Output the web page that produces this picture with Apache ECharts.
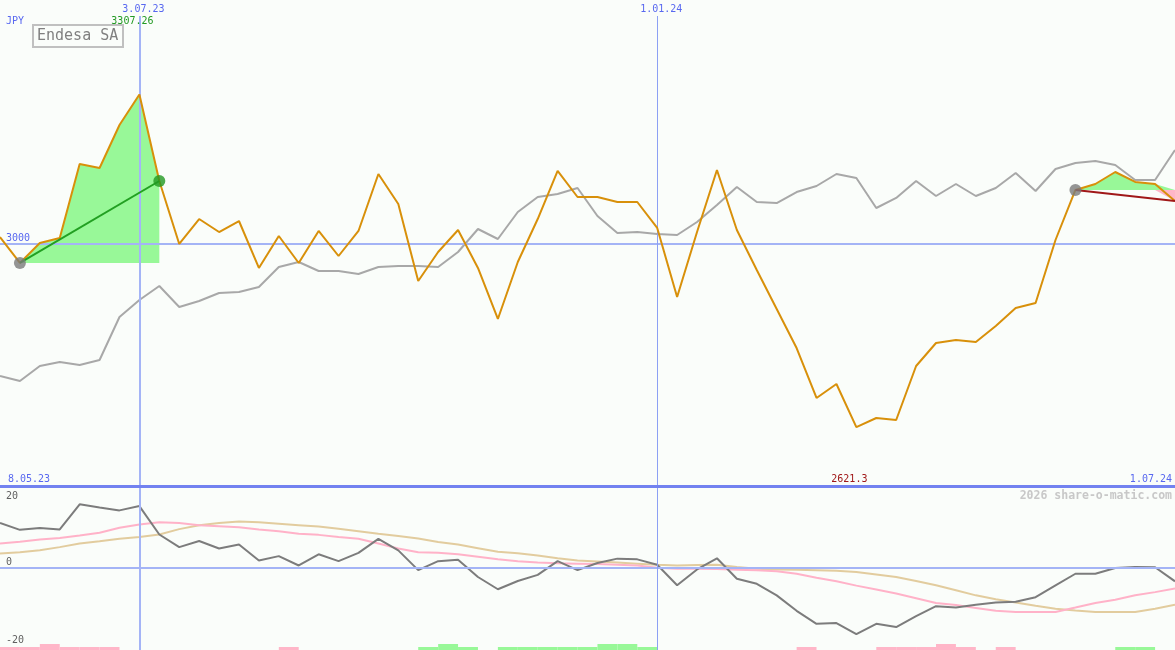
<!DOCTYPE html>
<html><head><meta charset="utf-8">
<script src="https://cdn.jsdelivr.net/npm/echarts@6/dist/echarts.min.js"></script>
<style>html,body{margin:0;padding:0;background:#fafdfa;}#c{width:1175px;height:650px;}</style>
</head><body><div id="c"></div>
<script>
// ---------- data ----------
const dates = ['2023-05-15','2023-05-22','2023-05-29','2023-06-05','2023-06-12','2023-06-19','2023-06-26','2023-07-03',
'2023-07-10','2023-07-17','2023-07-24','2023-07-31','2023-08-07','2023-08-14','2023-08-21','2023-08-28',
'2023-09-04','2023-09-11','2023-09-18','2023-09-25','2023-10-02','2023-10-09','2023-10-16','2023-10-23',
'2023-10-30','2023-11-06','2023-11-13','2023-11-20','2023-11-27','2023-12-04','2023-12-11','2023-12-18',
'2023-12-25','2024-01-01','2024-01-08','2024-01-15','2024-01-22','2024-01-29','2024-02-05','2024-02-12',
'2024-02-19','2024-02-26','2024-03-04','2024-03-11','2024-03-18','2024-03-25','2024-04-01','2024-04-08',
'2024-04-15','2024-04-22','2024-04-29','2024-05-06','2024-05-13','2024-05-20','2024-05-27','2024-06-03',
'2024-06-10','2024-06-17','2024-06-24','2024-07-01'];
const price = [3013.4,2959.8,3001.0,3011.3,3164.0,3155.8,3244.5,3307.26,
3128.9,2999.0,3050.5,3023.7,3046.4,2949.5,3015.5,2959.8,
3025.8,2974.2,3025.8,3143.4,3081.5,2922.6,2982.5,3027.9,
2949.5,2844.3,2961.8,3050.5,3149.6,3095.9,3095.9,3085.6,
3085.6,3032.0,2889.6,3023.7,3151.6,3027.9,2945.4,2864.9,
2784.4,2681.3,2710.2,2621.3,2640.0,2635.9,2747.3,2794.7,
2800.9,2796.8,2829.8,2866.9,2877.3,3007.2,3110.4,3122.7,
3147.5,3126.9,3122.7,3087.7];
const compare = [2726.7,2716.3,2747.3,2755.5,2749.3,2759.7,2848.4,2883.4,
2912.3,2869.0,2881.4,2897.9,2899.9,2910.3,2951.5,2961.8,
2943.3,2943.3,2937.1,2951.5,2953.6,2953.6,2951.5,2982.5,
3029.9,3009.3,3065.0,3095.9,3102.1,3114.5,3056.7,3021.7,
3023.7,3019.6,3017.5,3044.4,3079.4,3116.6,3085.6,3083.5,
3106.2,3118.6,3143.4,3135.1,3073.2,3093.9,3128.9,3098.0,
3122.7,3098.0,3114.5,3145.4,3108.3,3153.7,3166.1,3170.2,
3161.9,3131.0,3131.0,3192.9];
const momentum = [12.5,10.6,11.1,10.7,17.7,16.8,16.0,17.2,
9.3,5.8,7.5,5.4,6.5,2.1,3.3,0.7,
3.8,1.9,4.2,8.1,4.9,-0.6,1.9,2.3,
-2.5,-5.9,-3.6,-1.9,1.9,-0.6,1.4,2.6,
2.4,0.9,-4.8,-0.4,2.7,-3.0,-4.4,-7.6,
-11.9,-15.5,-15.3,-18.4,-15.5,-16.4,-13.4,-10.6,
-11.0,-10.2,-9.6,-9.4,-8.1,-4.8,-1.6,-1.6,
0.0,0.3,0.2,-3.7];
const avgFast = [6.8,7.3,7.9,8.3,9.0,9.8,11.2,12.1,
12.7,12.5,11.9,11.6,11.3,10.7,10.2,9.5,
9.2,8.6,8.1,6.8,5.4,4.4,4.2,3.8,
3.1,2.4,1.9,1.5,1.3,1.2,1.1,0.9,
0.7,0.1,-0.2,-0.2,-0.3,-0.5,-0.6,-0.9,
-1.6,-2.7,-3.7,-4.9,-6.0,-7.1,-8.4,-9.7,
-10.3,-11.1,-11.9,-12.2,-12.2,-12.2,-11.0,-9.7,
-8.8,-7.6,-6.7,-5.7];
const avgSlow = [4.0,4.4,4.9,5.8,6.8,7.4,8.1,8.6,
9.3,10.8,11.9,12.5,12.9,12.7,12.3,11.9,
11.5,10.9,10.2,9.5,8.9,8.2,7.2,6.5,
5.5,4.5,4.1,3.5,2.7,2.1,1.8,1.5,
1.2,0.9,0.7,0.8,0.9,0.3,-0.2,-0.4,
-0.5,-0.6,-0.8,-1.1,-1.8,-2.5,-3.6,-4.8,
-6.2,-7.6,-8.7,-9.6,-10.5,-11.3,-11.8,-12.2,
-12.2,-12.2,-11.3,-10.2];
const signals = [-1,-1,-2,-1,-1,-1,0,0,
0,0,0,0,0,0,-1,0,
0,0,0,0,0,1,2,1,
0,1,1,1,1,1,2,2,
1,0,0,0,0,0,0,0,
-1,0,0,0,-1,-1,-1,-2,
-1,0,-1,0,0,0,0,0,
1,1,0];
const markDates = ['2023-07-03','2024-01-01'];
const periods = [[1,8],[54,59]];
const refPrice = 3000;
const oscTicks = [20,0,-20];
const currency = 'JPY';
const seriesName = 'Endesa SA';
const rangeLabels = ['8.05.23','1.07.24'];
const watermark = '2026 share-o-matic.com';

// ---------- styles ----------
const FONT = '"DejaVu Sans Mono", monospace';
const BLUE_TXT = '#5868f0';
const REF = '#a4b4f6';
const REF_THIN = '#8ca0f4';
const fmtDate = d => { const [y,m,dd] = d.split('-'); return (+dd) + '.' + m + '.' + y.slice(2); };

const series = [];
// reference lines (top)
series.push({type:'line', xAxisIndex:0, yAxisIndex:0, data:price, showSymbol:false, silent:true, z:1,
  lineStyle:{opacity:0},
  markLine:{silent:true, symbol:['none','none'], label:{show:false}, animation:false,
    data:[{yAxis:refPrice, lineStyle:{color:REF,width:2,type:'solid'}},
          {xAxis:markDates[0], lineStyle:{color:REF,width:2,type:'solid'}},
          {xAxis:markDates[1], lineStyle:{color:REF_THIN,width:1,type:'solid'}}]}});
// comparison line
series.push({type:'line', xAxisIndex:0, yAxisIndex:0, data:compare, showSymbol:false, z:2,
  lineStyle:{color:'#a8a8a8', width:2}});
// period fills
periods.forEach(([a,b],k) => {
  const base = price[a];
  const inR = i => i>=a && i<=b;
  const baseArr = price.map((v,i)=> inR(i) ? base : '-');
  const up = price.map((v,i)=> inR(i) ? Math.max(v-base,0) : '-');
  const dn = price.map((v,i)=> inR(i) ? Math.min(v-base,0) : '-');
  const common = {type:'line', xAxisIndex:0, yAxisIndex:0, showSymbol:false, silent:true, stackStrategy:'all', lineStyle:{opacity:0}, z:3};
  series.push(Object.assign({}, common, {stack:'u'+k, data:baseArr}));
  series.push(Object.assign({}, common, {stack:'u'+k, data:up, areaStyle:{color:'#98f898', opacity:1}}));
  series.push(Object.assign({}, common, {stack:'d'+k, data:baseArr}));
  series.push(Object.assign({}, common, {stack:'d'+k, data:dn, areaStyle:{color:'#ffb6c8', opacity:1}}));
});
// price line
series.push({type:'line', name:seriesName, xAxisIndex:0, yAxisIndex:0, data:price, showSymbol:false, z:5,
  lineStyle:{color:'#d8900a', width:2}});
// trend lines and dots
periods.forEach(([a,b]) => {
  const gain = price[b] >= price[a];
  const col = gain ? '#22a022' : '#a01818';
  series.push({type:'line', xAxisIndex:0, yAxisIndex:0, connectNulls:true, showSymbol:false, silent:true, z:6,
    data: price.map((v,i)=> (i===a||i===b) ? v : '-'), lineStyle:{color:col, width:2}});
  series.push({type:'scatter', xAxisIndex:0, yAxisIndex:0, silent:true, z:7, symbolSize:12,
    data:[[a, price[a]]], itemStyle:{color:'#7a7a7a'}});
  if (b < price.length-1) {
    series.push({type:'scatter', xAxisIndex:0, yAxisIndex:0, silent:true, z:7, symbolSize:12,
      data:[[b, price[b]]], itemStyle:{color:'#229922'}});
  }
});
// bottom reference lines
series.push({type:'line', xAxisIndex:1, yAxisIndex:1, data:momentum, showSymbol:false, silent:true, z:1,
  lineStyle:{opacity:0},
  markLine:{silent:true, symbol:['none','none'], label:{show:false}, animation:false,
    data:[{yAxis:0, lineStyle:{color:REF,width:2,type:'solid'}},
          {xAxis:markDates[0], lineStyle:{color:REF,width:2,type:'solid'}},
          {xAxis:markDates[1], lineStyle:{color:REF_THIN,width:1,type:'solid'}}]}});
series.push({type:'line', xAxisIndex:1, yAxisIndex:1, data:avgSlow, showSymbol:false, z:2, lineStyle:{color:'#e2cc9e', width:2}});
series.push({type:'line', xAxisIndex:1, yAxisIndex:1, data:avgFast, showSymbol:false, z:3, lineStyle:{color:'#ffb2c8', width:2}});
series.push({type:'line', xAxisIndex:1, yAxisIndex:1, data:momentum, showSymbol:false, z:4, lineStyle:{color:'#7c7c7c', width:2}});
// signal bars
const sig = signals.slice(0, dates.length-1);
series.push({type:'bar', xAxisIndex:2, yAxisIndex:2, data:sig.map(s=> s>0 ? s : '-'), barWidth:'100%', barGap:'-100%', silent:true, z:2, itemStyle:{color:'#98f898'}});
series.push({type:'bar', xAxisIndex:2, yAxisIndex:2, data:sig.map(s=> s<0 ? -s : '-'), barWidth:'100%', barGap:'-100%', silent:true, z:2, itemStyle:{color:'#ffb6c8'}});

const hid = {axisLine:{show:false}, axisTick:{show:false}, axisLabel:{show:false}, splitLine:{show:false}};
const option = {
  animation:false,
  backgroundColor:'#fafdfa',
  grid:[{left:0,right:0,top:16,height:469},{left:0,right:0,top:488,height:162},{left:0,right:0,top:488,height:162}],
  xAxis:[
    Object.assign({type:'category', gridIndex:0, data:dates, boundaryGap:false}, hid),
    Object.assign({type:'category', gridIndex:1, data:dates, boundaryGap:false}, hid),
    Object.assign({type:'category', gridIndex:2, data:dates.slice(0,dates.length-1), boundaryGap:true}, hid)
  ],
  yAxis:[
    Object.assign({type:'value', gridIndex:0, min:2501.8, max:3469.3}, hid),
    Object.assign({type:'value', gridIndex:1, min:-22.78, max:22.22}, hid),
    Object.assign({type:'value', gridIndex:2, min:0, max:54}, hid)
  ],
  series
};
const chart = echarts.init(document.getElementById('c'), null, {renderer:'canvas'});
chart.setOption(option);

// ---------- text overlays positioned through the axes ----------
const px = i => chart.convertToPixel({xAxisIndex:0}, i);
const py = v => chart.convertToPixel({yAxisIndex:0}, v);
const pyo = v => chart.convertToPixel({yAxisIndex:1}, v);
const txt = (text, x, y, fill, align, extra) => ({type:'text', x, y, silent:true, z:100,
  style:Object.assign({text, fill, font:'10px '+FONT, align:align||'left', verticalAlign:'middle'}, extra||{})});
const g = [];
g.push(txt(currency, 6, 21, BLUE_TXT));
markDates.forEach(d => g.push(txt(fmtDate(d), px(dates.indexOf(d))+4, 9, BLUE_TXT, 'center')));
let iMax = 0, iMin = 0;
price.forEach((v,i)=>{ if (v>price[iMax]) iMax=i; if (v<price[iMin]) iMin=i; });
g.push(txt(String(price[iMax]), px(iMax)-7, 21, '#229922', 'center'));
g.push(txt(String(price[iMin]), px(iMin)-7, 479, '#a01818', 'center'));
g.push(txt(rangeLabels[0], 8, 479, BLUE_TXT));
g.push(txt(rangeLabels[1], 1172, 479, BLUE_TXT, 'right'));
g.push(txt(String(refPrice), 6, py(refPrice)-5.5, BLUE_TXT));
oscTicks.forEach(v => g.push(txt(String(v), 6, pyo(v) + (v===0 ? -5.5 : 0.5), '#606060')));
g.push(txt(watermark, 1172, 496, '#c8c8c8', 'right', {font:'bold 11.5px '+FONT}));
g.push({type:'line', silent:true, z:90, shape:{x1:0,y1:486.5,x2:1175,y2:486.5}, style:{stroke:'#7282f0', lineWidth:3}});
g.push({type:'rect', silent:true, z:100, shape:{x:33,y:25,width:90,height:22}, style:{fill:'#fafdfa', stroke:'#c0c0c0', lineWidth:2}});
g.push(txt(seriesName, 37, 36.5, '#808080', 'left', {font:'15px '+FONT}));
chart.setOption({graphic:g});
</script>
</body></html>
